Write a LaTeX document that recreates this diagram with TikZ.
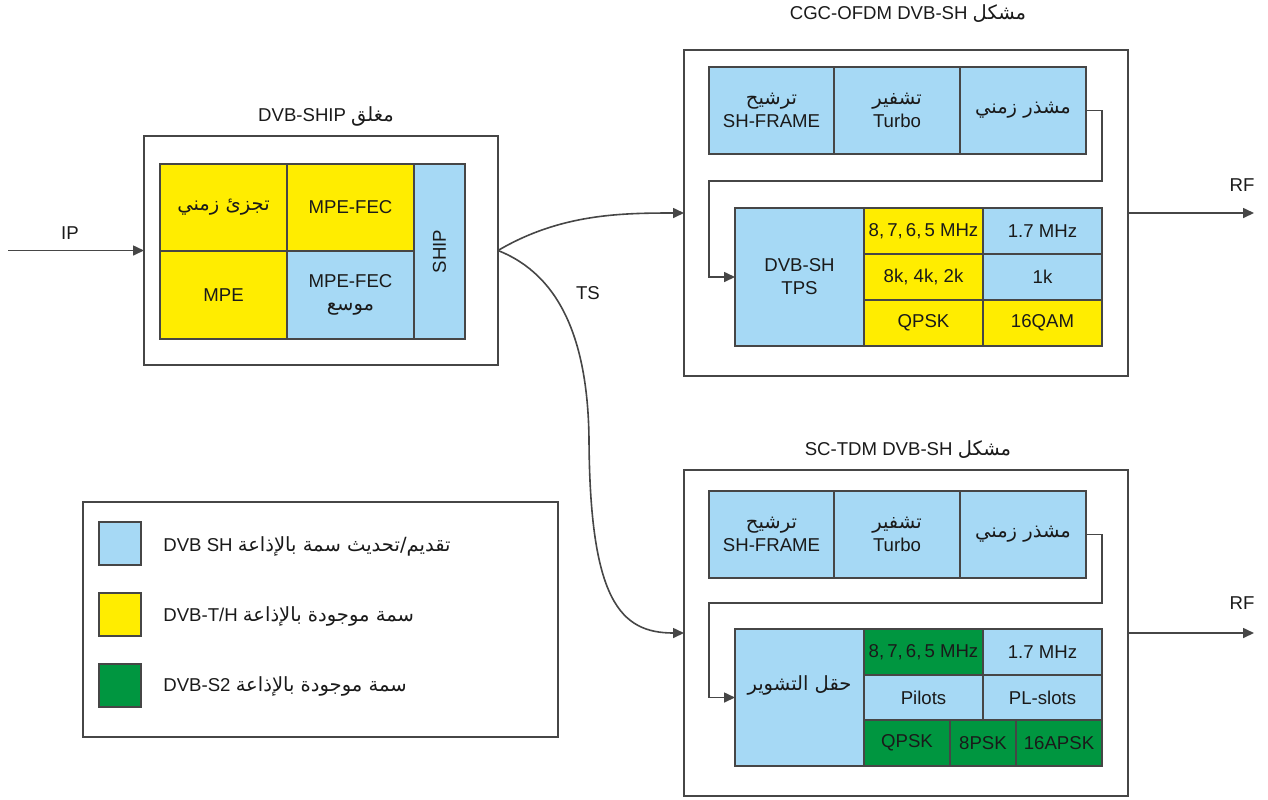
\documentclass[tikz,border=0pt]{standalone}
\usepackage{fontspec}
\setmainfont{Liberation Sans}
\newfontfamily\arabicfont[Script=Arabic,Scale=1.05]{DejaVu Sans}
\TeXXeTstate=1
\usetikzlibrary{arrows.meta}
\definecolor{shblue}{RGB}{166,217,245}
\definecolor{dvbyellow}{RGB}{255,237,0}
\definecolor{dvbgreen}{RGB}{0,150,64}
\definecolor{linegray}{RGB}{70,70,70}
\definecolor{txt}{RGB}{26,26,26}
\newcommand\artxt[1]{{\arabicfont\beginR #1\endR}}
% name, x1, y1, x2, y2, style, text
\newcommand\cellbox[7]{%
  \node[cell,#6,minimum width={(#4-#2)*0.5pt},minimum height={(#5-#3)*0.5pt}]
    (#1) at ({(#2+#4)/2},{(#3+#5)/2}) {#7};}
\begin{document}
\begin{tikzpicture}[x=0.5pt,y=-0.5pt,
  font=\fontsize{9.3}{11.5}\selectfont, text=txt,
  cell/.style={draw=linegray, line width=0.8pt, inner sep=0pt, outer sep=0pt, align=center},
  conn/.style={draw=linegray, line width=0.8pt},
  tip/.style={-{Triangle[length=5.5pt,width=5pt]}},
  lbl/.style={inner sep=0pt, align=center}]
\useasboundingbox (0,0) rectangle (1268,799);

% ---------------- DVB-SHIP block ----------------
\cellbox{shipframe}{144}{136}{498}{365}{}{}
\node[lbl] (shiptitle) at (326,116) {DVB-SHIP \artxt{مغلق}};
\cellbox{tz}{160}{164}{287}{251}{fill=dvbyellow}{\artxt{تجزئ زمني}}
\cellbox{mfec}{287}{164}{414}{251}{fill=dvbyellow}{MPE-FEC}
\cellbox{mpe}{160}{251}{287}{339}{fill=dvbyellow}{MPE}
\cellbox{mfecx}{287}{251}{414}{339}{fill=shblue}{MPE-FEC\\\artxt{موسع}}
\cellbox{ship}{414}{164}{465}{339}{fill=shblue}{}
\node[lbl, rotate=90] (shiplbl) at (ship.center) {SHIP};

% IP input
\coordinate (ipstart) at (8,250.5);
\draw[conn,tip] (ipstart) -- (shipframe.west);
\node[lbl] (iplbl) at (70,233) {IP};

% ---------------- CGC-OFDM block ----------------
\cellbox{cgcframe}{684}{50}{1128}{376}{}{}
\node[lbl] (cgctitle) at (908,14) {CGC-OFDM DVB-SH \artxt{مشكل}};
\cellbox{tframe}{709}{67}{834}{154}{fill=shblue}{\artxt{ترشيح}\\SH-FRAME}
\cellbox{tturbo}{834}{67}{960}{154}{fill=shblue}{\artxt{تشفير}\\Turbo}
\cellbox{tint}{960}{67}{1086}{154}{fill=shblue}{\artxt{مشذر زمني}}
\cellbox{tps}{735}{208}{864}{346}{fill=shblue}{DVB-SH\\TPS}
\cellbox{c1}{864}{208}{983}{254}{fill=dvbyellow}{8,\,7,\,6,\,5 MHz}
\cellbox{c2}{983}{208}{1102}{254}{fill=shblue}{1.7 MHz}
\cellbox{c3}{864}{254}{983}{300}{fill=dvbyellow}{8k, 4k, 2k}
\cellbox{c4}{983}{254}{1102}{300}{fill=shblue}{1k}
\cellbox{c5}{864}{300}{983}{346}{fill=dvbyellow}{QPSK}
\cellbox{c6}{983}{300}{1102}{346}{fill=dvbyellow}{16QAM}
\draw[conn,tip] (tint.east) -| (1102,181) -| (709,277) -- (tps.west);
\coordinate (rf1end) at (1254,213);
\draw[conn,tip] (cgcframe.east) -- (rf1end);
\node[lbl] (rf1lbl) at (1242,185) {RF};

% ---------------- SC-TDM block ----------------
\cellbox{tdmframe}{684}{470}{1128}{796}{}{}
\node[lbl] (tdmtitle) at (908,450) {SC-TDM DVB-SH \artxt{مشكل}};
\cellbox{sframe}{709}{491}{834}{578}{fill=shblue}{\artxt{ترشيح}\\SH-FRAME}
\cellbox{sturbo}{834}{491}{960}{578}{fill=shblue}{\artxt{تشفير}\\Turbo}
\cellbox{sint}{960}{491}{1086}{578}{fill=shblue}{\artxt{مشذر زمني}}
\cellbox{sig}{735}{629}{864}{766}{fill=shblue}{}
\node[lbl] (siglbl) at ([yshift=6pt]sig.center) {\artxt{حقل التشوير}};
\cellbox{d1}{864}{629}{983}{675}{fill=dvbgreen}{8,\,7,\,6,\,5 MHz}
\cellbox{d2}{983}{629}{1102}{675}{fill=shblue}{1.7 MHz}
\cellbox{d3}{864}{675}{983}{720}{fill=shblue}{Pilots}
\cellbox{d4}{983}{675}{1102}{720}{fill=shblue}{PL-slots}
\cellbox{d5}{864}{720}{950}{766}{fill=dvbgreen}{QPSK}
\cellbox{d6}{950}{720}{1016}{766}{fill=dvbgreen}{8PSK}
\cellbox{d7}{1016}{720}{1102}{766}{fill=dvbgreen}{16APSK}
\draw[conn,tip] (sint.east) -| (1102,603) -| (709,697.5) -- (sig.west);
\coordinate (rf2end) at (1254,633);
\draw[conn,tip] (tdmframe.east) -- (rf2end);
\node[lbl] (rf2lbl) at (1242,603) {RF};

% ---------------- TS connectors ----------------
\draw[conn,tip] (shipframe.east) .. controls (560,214) and (620,213) .. (cgcframe.west);
\coordinate (tsmid) at (589,440);
\draw[conn,tip] (shipframe.east) .. controls (560,275) and (588,340) .. (tsmid)
  .. controls (590,600) and (620,633) .. (tdmframe.west);
\node[lbl] (tslbl) at (588,293) {TS};

% ---------------- Legend ----------------
\cellbox{legend}{83}{502}{558}{737}{}{}
\cellbox{sw1}{99}{522}{141}{565}{fill=shblue}{}
\cellbox{sw2}{99}{593}{141}{636}{fill=dvbyellow}{}
\cellbox{sw3}{99}{664}{141}{707}{fill=dvbgreen}{}
\node[lbl, anchor=west] (lg1) at (163,546) {DVB SH \artxt{تقديم/تحديث سمة بالإذاعة}};
\node[lbl, anchor=west] (lg2) at (163,616) {DVB-T/H \artxt{سمة موجودة بالإذاعة}};
\node[lbl, anchor=west] (lg3) at (163,686) {DVB-S2 \artxt{سمة موجودة بالإذاعة}};
\end{tikzpicture}
\end{document}
